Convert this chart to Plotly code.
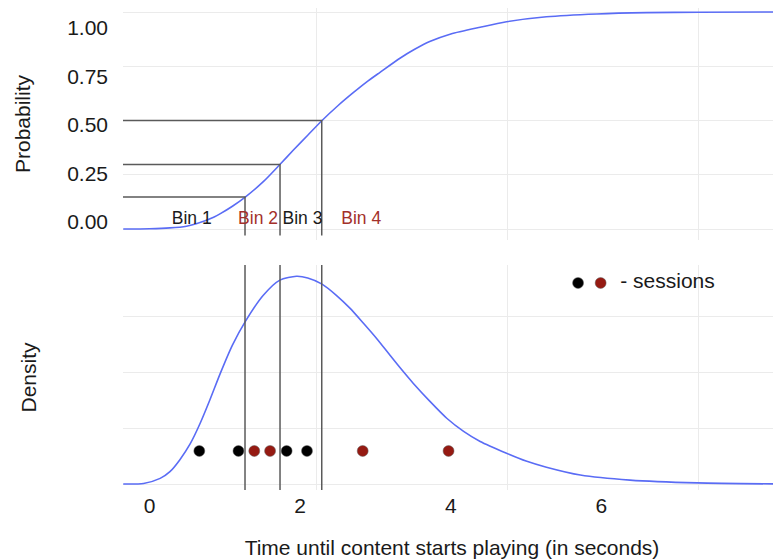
import plotly.graph_objects as go

# ---------------- data ----------------
cdf_x = [-0.35, 0.00, 0.27, 0.49, 0.63, 0.85, 0.94, 1.10, 1.27, 1.51, 1.73, 1.91, 2.10, 2.29,
         2.50, 2.70, 2.88, 3.06, 3.33, 3.52, 3.72, 4.00, 4.39, 4.74, 5.27, 5.94, 6.60, 7.30, 8.39]
cdf_p = [0.000, 0.001, 0.005, 0.013, 0.025, 0.054, 0.071, 0.105, 0.147, 0.218, 0.297, 0.364, 0.432, 0.500,
         0.568, 0.627, 0.677, 0.722, 0.788, 0.828, 0.864, 0.899, 0.930, 0.955, 0.978, 0.991, 0.997, 0.999, 1.000]

pdf_x = [-0.35, -0.08, 0.14, 0.27, 0.40, 0.54, 0.67, 0.80, 0.94, 1.10, 1.27, 1.51, 1.73, 1.95,
         2.10, 2.29, 2.48, 2.66, 2.84, 3.02, 3.18, 3.33, 3.50, 3.72, 3.95, 4.17, 4.39, 4.74,
         5.00, 5.27, 5.72, 6.38, 7.27, 8.39]
pdf_d = [0.000, 0.001, 0.010, 0.022, 0.043, 0.072, 0.108, 0.150, 0.198, 0.248, 0.290, 0.337, 0.364, 0.371,
         0.368, 0.357, 0.337, 0.314, 0.287, 0.259, 0.232, 0.207, 0.180, 0.148, 0.117, 0.094, 0.076, 0.055,
         0.041, 0.030, 0.016, 0.007, 0.002, 0.000]

bin_edge_x = [1.267, 1.732, 2.286]
bin_edge_p = [0.147, 0.297, 0.500]

bin_labels = ["Bin 1", "Bin 2", "Bin 3", "Bin 4"]
bin_label_x = [0.56, 1.44, 2.03, 2.81]
bin_group = [0, 1, 0, 1]

session_x = [0.66, 1.18, 1.39, 1.60, 1.82, 2.09, 2.83, 3.97]
session_group = [0, 0, 1, 1, 0, 0, 1, 1]

x_tick_vals = [0, 2, 4, 6]
x_tick_text = ["0", "2", "4", "6"]
prob_tick_vals = [0, 0.25, 0.5, 0.75, 1.0]
prob_tick_text = ["0.00", "0.25", "0.50", "0.75", "1.00"]

# ---------------- styling / layout constants ----------------
FONT = "Liberation Sans, Arial, Helvetica, sans-serif"
TXT = "#1a1a1a"
BLUE = "#5a6cf5"
EDGE = "#5a5a5a"
GRID = "#ebebeb"
RED_DOT = "#951a12"
RED_TXT = "#a3302a"
group_dot_color = ["#000000", RED_DOT]
group_txt_color = [TXT, RED_TXT]

X_RANGE = [-0.3533, 8.3851]
X_GRID = [-0.340, 2.2098, 4.7463, 7.2828]
TOP_RANGE = [-0.05069, 1.01843]
TOP_LABEL_RANGE = [-0.09278, 1.10309]
BOT_RANGE = [-0.010714, 0.391071]
BOT_GRID = [0, 0.1, 0.2, 0.3]
TOP_DOMAIN = [0.51867, 1.0]
BOT_DOMAIN = [0.0, 0.46680]
DOT_LEVEL = 0.059
BIN_LABEL_P = 0.042
EDGE_BOTTOM_P = -0.03
KEY_Y = 0.359

fig = go.Figure()

# CDF
fig.add_trace(go.Scatter(x=cdf_x, y=cdf_p, mode="lines", xaxis="x", yaxis="y",
                         line=dict(color=BLUE, width=1.6, shape="spline", smoothing=0.7),
                         hoverinfo="skip"))
# bin edges in top panel
ex, ey = [], []
for bx, bp in zip(bin_edge_x, bin_edge_p):
    ex += [X_RANGE[0], bx, bx, None]
    ey += [bp, bp, EDGE_BOTTOM_P, None]
fig.add_trace(go.Scatter(x=ex, y=ey, mode="lines", xaxis="x", yaxis="y",
                         line=dict(color=EDGE, width=1.5), hoverinfo="skip"))
# bin labels
fig.add_trace(go.Scatter(x=bin_label_x, y=[BIN_LABEL_P] * len(bin_label_x), mode="text",
                         text=bin_labels, xaxis="x", yaxis="y",
                         textfont=dict(family=FONT, size=17.5,
                                       color=[group_txt_color[g] for g in bin_group]),
                         textposition="middle center", hoverinfo="skip"))

# PDF
fig.add_trace(go.Scatter(x=pdf_x, y=pdf_d, mode="lines", xaxis="x2", yaxis="y2",
                         line=dict(color=BLUE, width=1.6, shape="spline", smoothing=0.7),
                         hoverinfo="skip"))
# bin edges in bottom panel
bx_, by_ = [], []
for bx in bin_edge_x:
    bx_ += [bx, bx, None]
    by_ += [BOT_RANGE[0], BOT_RANGE[1], None]
fig.add_trace(go.Scatter(x=bx_, y=by_, mode="lines", xaxis="x2", yaxis="y2",
                         line=dict(color=EDGE, width=1.5), hoverinfo="skip"))
# sessions
fig.add_trace(go.Scatter(x=session_x, y=[DOT_LEVEL] * len(session_x), mode="markers",
                         xaxis="x2", yaxis="y2",
                         marker=dict(size=11, color=[group_dot_color[g] for g in session_group],
                                     line=dict(color="#666666", width=0.5)),
                         hoverinfo="skip"))
# legend-like key
fig.add_trace(go.Scatter(x=[5.69, 5.99], y=[KEY_Y, KEY_Y], mode="markers", xaxis="x2", yaxis="y2",
                         marker=dict(size=11, color=group_dot_color,
                                     line=dict(color="#666666", width=0.5)),
                         hoverinfo="skip"))
fig.add_trace(go.Scatter(x=[6.25], y=[KEY_Y], mode="text", text=["- sessions"],
                         textposition="middle right", xaxis="x2", yaxis="y2",
                         textfont=dict(family=FONT, size=21, color=TXT), hoverinfo="skip"))

# dummy traces to register the label overlay axes
fig.add_trace(go.Scatter(x=[None], y=[None], xaxis="x3", yaxis="y2", hoverinfo="skip"))
fig.add_trace(go.Scatter(x=[None], y=[None], xaxis="x", yaxis="y3", hoverinfo="skip"))

grid_x = dict(range=X_RANGE, tickmode="array", tickvals=X_GRID, showticklabels=False,
              showgrid=True, gridcolor=GRID, gridwidth=1, zeroline=False, showline=False,
              ticks="", domain=[0, 1], automargin=False, fixedrange=True)

# The page body has an 8px margin, so the figure is 8px smaller than the window.
fig.update_layout(
    width=773, height=552,
    margin=dict(l=115, r=0, t=0, b=70, pad=0),
    paper_bgcolor="white", plot_bgcolor="white",
    showlegend=False,
    font=dict(family=FONT, size=21, color=TXT),
    xaxis=dict(grid_x, anchor="y"),
    xaxis2=dict(grid_x, anchor="y2"),
    yaxis=dict(domain=TOP_DOMAIN, range=TOP_RANGE, tickmode="array", tickvals=prob_tick_vals,
               showticklabels=False, showgrid=True, gridcolor=GRID, zeroline=False,
               showline=False, ticks="", anchor="x", automargin=False),
    yaxis2=dict(domain=BOT_DOMAIN, range=BOT_RANGE, tickmode="array", tickvals=BOT_GRID,
                showticklabels=False, showgrid=True, gridcolor=GRID, zeroline=False,
                showline=False, ticks="", anchor="x2", automargin=False,
                title=dict(text="Density", standoff=79, font=dict(size=21, color=TXT))),
    xaxis3=dict(overlaying="x2", anchor="y2", side="bottom", range=X_RANGE, tickmode="array",
                tickvals=x_tick_vals, ticktext=x_tick_text, showgrid=False, zeroline=False,
                showline=False, ticks="", ticklabelstandoff=1, automargin=False,
                tickfont=dict(size=21, color=TXT),
                title=dict(text="Time until content starts playing (in seconds)", standoff=24,
                           font=dict(size=21, color=TXT))),
    yaxis3=dict(overlaying="y", anchor="x", side="left", range=TOP_LABEL_RANGE, tickmode="array",
                tickvals=prob_tick_vals, ticktext=prob_tick_text, showgrid=False, zeroline=False,
                showline=False, ticks="", ticklabelstandoff=14, automargin=False,
                tickfont=dict(size=21, color=TXT),
                title=dict(text="Probability", standoff=30, font=dict(size=21, color=TXT))),
)

fig.write_html("out.html")
